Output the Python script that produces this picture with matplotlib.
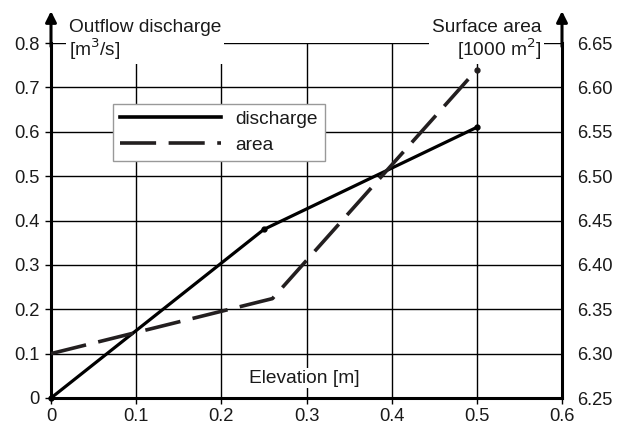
import matplotlib
matplotlib.use("Agg")
import matplotlib.pyplot as plt
from matplotlib.lines import Line2D

plt.rcParams['font.family'] = ['Liberation Sans', 'DejaVu Sans']
plt.rcParams['lines.scale_dashes'] = False

# Data
elevation = [0.0, 0.25, 0.5]
discharge = [0.0, 0.38, 0.61]
area_elev = [0.0, 0.26, 0.5]
area = [6.30, 6.362, 6.62]
x_ticks = [0, 0.1, 0.2, 0.3, 0.4, 0.5, 0.6]
x_labels = ['0', '0.1', '0.2', '0.3', '0.4', '0.5', '0.6']
y_ticks = [0, 0.1, 0.2, 0.3, 0.4, 0.5, 0.6, 0.7, 0.8]
y_labels = ['0', '0.1', '0.2', '0.3', '0.4', '0.5', '0.6', '0.7', '0.8']
y2_ticks = [6.25, 6.30, 6.35, 6.40, 6.45, 6.50, 6.55, 6.60, 6.65]
y2_labels = ['6.25', '6.30', '6.35', '6.40', '6.45', '6.50', '6.55', '6.60', '6.65']

W, H = 619, 428
fig = plt.figure(figsize=(W / 100, H / 100), dpi=100)
left, right, bottom, top = 51, 562, 398, 43
ax = fig.add_axes([left / W, 1 - bottom / H, (right - left) / W, (bottom - top) / H])
ax2 = ax.twinx()

FS = 13.2
TFS = 13.8
ink = '#1a1a1a'

ax.set_xlim(0, 0.6)
ax.set_ylim(0, 0.8)
ax2.set_ylim(6.25, 6.65)

ax.set_xticks(x_ticks)
ax.set_xticklabels(x_labels, fontsize=FS, color=ink)
ax.set_yticks(y_ticks)
ax.set_yticklabels(y_labels, fontsize=FS, color=ink)
ax2.set_yticks(y2_ticks)
ax2.set_yticklabels(y2_labels, fontsize=FS, color=ink)

ax.grid(True, color='black', linewidth=1.0, zorder=0)
ax.set_axisbelow(True)

for a in (ax, ax2):
    a.spines['top'].set_visible(False)
ax2.spines['left'].set_visible(False)
ax2.spines['bottom'].set_visible(False)
ax.spines['right'].set_visible(False)
ax.spines['left'].set_linewidth(2.2)
ax.spines['bottom'].set_linewidth(2.2)
ax2.spines['right'].set_linewidth(2.2)

ax.tick_params(axis='y', direction='out', length=4, width=1, pad=4)
ax.tick_params(axis='x', direction='out', length=4, width=1, pad=3)
ax2.tick_params(axis='y', direction='out', length=0, pad=11)

# Lines
l1, = ax.plot(elevation, discharge, color='black', linewidth=2.3,
              marker='o', markersize=3.5, zorder=3, clip_on=False)
l2, = ax2.plot(area_elev, area, color='#231f20', linewidth=2.6,
               dashes=(26, 9), zorder=3, clip_on=False)
ax2.plot([area_elev[-1]], [area[-1]], 'o', color='#231f20', markersize=3.5, clip_on=False)

# Arrowheads on vertical axes
for xx in (0, 1):
    ax.annotate('', xy=(xx, 1.09), xytext=(xx, 0.99), xycoords='axes fraction',
                arrowprops=dict(arrowstyle='-|>', lw=2.2, color='black',
                                mutation_scale=16, shrinkA=0, shrinkB=0),
                annotation_clip=False)

# Axis titles
fig.text(69 / W, 1 - 19 / H, 'Outflow discharge\n[m$^3$/s]', fontsize=TFS,
         ha='left', va='top', linespacing=1.0, color=ink,
         bbox=dict(facecolor='white', edgecolor='none', pad=2), zorder=5)
fig.text(541 / W, 1 - 19 / H, 'Surface area\n[1000 m$^2$]', fontsize=TFS,
         ha='right', va='top', linespacing=1.0, color=ink,
         multialignment='right',
         bbox=dict(facecolor='white', edgecolor='none', pad=2), zorder=5)
ax.text(0.297, 0.045, 'Elevation [m]', fontsize=TFS, ha='center', va='center',
        color=ink, bbox=dict(facecolor='white', edgecolor='none', pad=1), zorder=4)

# Legend
h1 = Line2D([], [], color='black', linewidth=2.6)
h2 = Line2D([], [], color='#231f20', linewidth=2.6, dashes=(26, 9))
leg = ax2.legend([h1, h2], ['discharge', 'area'], loc='upper left',
                 bbox_to_anchor=(113 / W, 1 - 104 / H), bbox_transform=fig.transFigure,
                 borderaxespad=0, fancybox=False, framealpha=1, edgecolor='#999999',
                 fontsize=TFS, handlelength=5.3, handletextpad=0.75,
                 labelspacing=0.45, borderpad=0.35)
for t in leg.get_texts():
    t.set_color(ink)
leg.get_frame().set_linewidth(1.0)
leg.set_zorder(6)

fig.savefig('out.png', dpi=100)
